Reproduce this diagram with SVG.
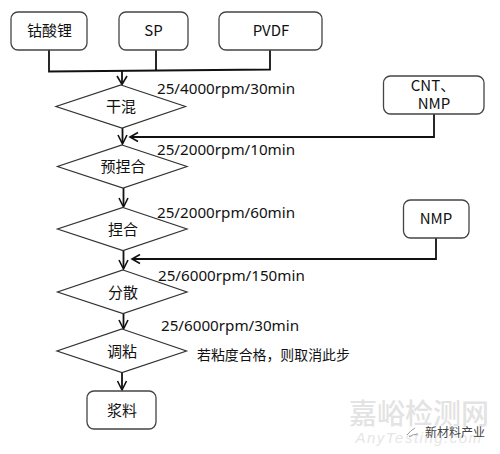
<svg xmlns="http://www.w3.org/2000/svg" width="500" height="454" viewBox="0 0 500 454">
<defs>
<style>
.box{fill:#fff;stroke:#444;stroke-width:1.3}
.dia{fill:#fff;stroke:#333;stroke-width:1.2}
.t{font-family:"Noto Sans CJK SC","Noto Sans",sans-serif;font-size:15px;fill:#111;text-anchor:middle}
.l{font-family:"Noto Sans","Noto Sans CJK SC",sans-serif;font-size:15.2px;fill:#111}
.c{fill:none;stroke:#111;stroke-width:1.8}
.h{fill:none;stroke:#111;stroke-width:1.6}
</style>
</defs>
<rect width="500" height="454" fill="#fff"/>
<g id="watermark">
<text x="419" y="424" font-family="'Noto Sans CJK SC',sans-serif" font-size="28" font-weight="500" fill="#e3e3e3" text-anchor="middle">嘉峪检测网</text>
<text x="419" y="443" font-family="'Liberation Sans',sans-serif" font-size="15" font-style="italic" letter-spacing="1.5" fill="#e6e6e6" text-anchor="middle">AnyTesting.com</text>
<path d="M407 435Q411 430 415 428M409 437Q413 434 418 434" fill="none" stroke="#999" stroke-width="1"/>
<text x="425" y="437" font-family="'Noto Sans CJK SC',sans-serif" font-size="12" fill="#444">新材料产业</text>
</g>
<g id="connectors">
<path class="c" d="M49 50V71.500L270 69.500V50M156 50V71"/>
<path class="c" d="M122 71V84"/><path class="h" d="M117 76L122 84.500L127 76"/>
<path class="c" d="M122.500 128V143"/><path class="h" d="M118 135L122.500 144L127 135"/>
<path class="c" d="M434 114V137H130"/><path class="h" d="M138 132.500L130 137L138 141.500"/>
<path class="c" d="M123.500 188V206"/><path class="h" d="M119 198L123.500 207L128 198"/>
<path class="c" d="M123.500 250.500V268"/><path class="h" d="M119 260L123.500 269L128 260"/>
<path class="c" d="M436 238V259H132"/><path class="h" d="M140 254.500L132 259L140 263.500"/>
<path class="c" d="M123.500 313V328"/><path class="h" d="M119 320L123.500 329L128 320"/>
<path class="c" d="M122 372V389"/><path class="h" d="M117.500 381L122 390L126.500 381"/>
</g>
<g id="n1"><rect class="box" x="11" y="12" width="76" height="38" rx="7"/><text class="t" x="49.500" y="36">钴酸锂</text></g>
<g id="n2"><rect class="box" x="119" y="12" width="69" height="38" rx="7"/><text class="t" x="153.500" y="36">SP</text></g>
<g id="n3"><rect class="box" x="219" y="12" width="103" height="38" rx="7"/><text class="t" x="271" y="36">PVDF</text></g>
<g id="n4"><rect class="box" x="383.500" y="76" width="100.500" height="38" rx="7"/><text class="t" x="433" y="91">CNT、</text><text class="t" x="434" y="109">NMP</text></g>
<g id="n5"><rect class="box" x="403.500" y="200" width="65.500" height="38" rx="7"/><text class="t" x="436" y="224">NMP</text></g>
<g id="d1"><path class="dia" d="M121 85L185.500 106.500L122 128L56 106.500Z"/><text class="t" x="121" y="112">干混</text></g>
<g id="d2"><path class="dia" d="M122 145L187 166.500L123 188L57.500 166.500Z"/><text class="t" x="123" y="172">预捏合</text></g>
<g id="d3"><path class="dia" d="M123 207.500L187 229L123 250.500L57.500 229Z"/><text class="t" x="123" y="234.500">捏合</text></g>
<g id="d4"><path class="dia" d="M123 270L187 292L123 313.500L57.500 292Z"/><text class="t" x="123" y="297.500">分散</text></g>
<g id="d5"><path class="dia" d="M122 329L186.500 351L122 372.500L57 351Z"/><text class="t" x="122" y="357">调粘</text></g>
<g id="n6"><rect class="box" x="87" y="391" width="69" height="38" rx="7"/><text class="t" x="122" y="415.500">浆料</text></g>
<g id="labels">
<text class="l" x="157" y="93.500">25/4000rpm/30min</text>
<text class="l" x="157" y="155">25/2000rpm/10min</text>
<text class="l" x="157" y="217.500">25/2000rpm/60min</text>
<text class="l" x="158" y="280.500">25/6000rpm/150min</text>
<text class="l" x="161" y="331">25/6000rpm/30min</text>
<text class="l" x="197" y="360" style="font-size:13.9px">若粘度合格，则取消此步</text>
</g>
</svg>
